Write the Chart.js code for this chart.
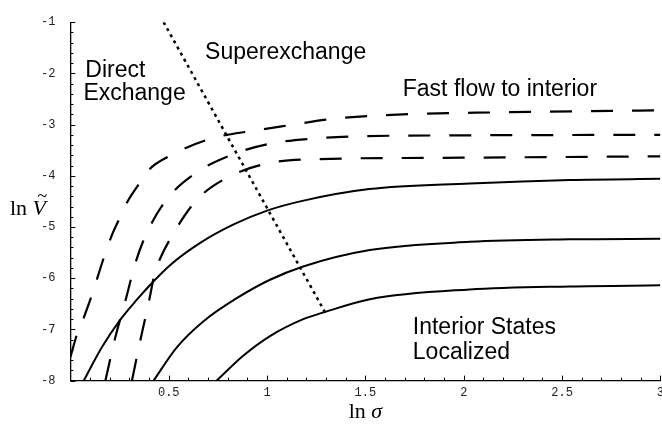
<!DOCTYPE html>
<html>
<head>
<meta charset="utf-8">
<script src="https://cdn.jsdelivr.net/npm/chart.js@4.4.0/dist/chart.umd.min.js"></script>
<style>
html, body { margin: 0; padding: 0; background: #fff; overflow: hidden; }
#wrap { width: 662px; height: 424px; overflow: hidden; }
</style>
</head>
<body>
<div id="wrap"><canvas id="grafik" width="669" height="424"></canvas></div>
<script>
// ======= Data kurva =======
const solidTopX = [0.068, 0.16, 0.254, 0.338, 0.423, 0.508, 0.66, 0.83, 1.0, 1.18, 1.52, 2.03, 2.54, 3.0];
const solidTopY = [-8, -7.35, -6.81, -6.42, -6.06, -5.74, -5.31, -4.95, -4.68, -4.49, -4.26, -4.15, -4.08, -4.06];

const solidMidX = [0.423, 0.541, 0.677, 0.846, 1.015, 1.184, 1.523, 2.03, 2.54, 3.0];
const solidMidY = [-8, -7.35, -6.84, -6.39, -6.03, -5.77, -5.45, -5.29, -5.24, -5.23];

const solidLowX = [0.744, 0.88, 1.015, 1.184, 1.294, 1.523, 2.03, 2.54, 3.0];
const solidLowY = [-8, -7.51, -7.13, -6.8, -6.66, -6.41, -6.22, -6.16, -6.14];

const dashAX = [0, 0.034, 0.068, 0.11, 0.169, 0.211, 0.245, 0.288, 0.347, 0.4, 0.5, 0.584, 0.694, 0.795, 0.897, 1.066, 1.354, 1.69, 2.2, 3.0];
const dashAY = [-7.54, -7.09, -6.77, -6.32, -5.61, -5.16, -4.87, -4.52, -4.17, -3.88, -3.62, -3.46, -3.3, -3.2, -3.14, -3.04, -2.88, -2.8, -2.76, -2.72];

const dashBX = [0.178, 0.228, 0.279, 0.33, 0.382, 0.484, 0.636, 0.82, 1.02, 1.244, 1.45, 2.0, 3.0];
const dashBY = [-8, -7.16, -6.45, -5.71, -5.17, -4.49, -3.95, -3.59, -3.37, -3.27, -3.23, -3.21, -3.2];

const dashCX = [0.313, 0.355, 0.398, 0.431, 0.457, 0.499, 0.638, 0.795, 1.0, 1.21, 1.84, 3.0];
const dashCY = [-8, -7.22, -6.48, -5.87, -5.61, -5.29, -4.49, -4.04, -3.76, -3.68, -3.65, -3.62];

const dottedX = [0.474, 1.294];
const dottedY = [-1, -6.66];

// ======= Label sumbu =======
const xTicks = [0.5, 1, 1.5, 2, 2.5, 3];
const yTicks = [-8, -7, -6, -5, -4, -3, -2, -1];

// ======= Teks keterangan (posisi dalam koordinat data) =======
const notes = [
    { text: 'Direct', x: 0.076, y: -2.07 },
    { text: 'Exchange', x: 0.066, y: -2.51 },
    { text: 'Superexchange', x: 0.685, y: -1.72 },
    { text: 'Fast flow to interior', x: 1.69, y: -2.45 },
    { text: 'Interior States', x: 1.741, y: -7.09 },
    { text: 'Localized', x: 1.741, y: -7.57 }
];

const toPoints = (xs, ys) => xs.map((x, i) => ({ x: x, y: ys[i] }));

function garis(xs, ys, dash, width, smooth) {
    return {
        data: toPoints(xs, ys),
        showLine: true,
        borderColor: '#000',
        borderWidth: width,
        borderDash: dash,
        borderCapStyle: 'butt',
        pointRadius: 0,
        fill: false,
        cubicInterpolationMode: smooth ? 'monotone' : 'default',
        tension: 0
    };
}

// ======= Plugin: tick kecil ke dalam, teks, judul sumbu =======
const dekorasi = {
    id: 'dekorasi',
    afterDraw(chart) {
        const { ctx, chartArea, scales } = chart;
        const sx = scales.x, sy = scales.y;
        ctx.save();
        ctx.strokeStyle = '#000';
        ctx.lineWidth = 1;
        for (let i = 0; i <= 30; i++) {
            const px = Math.round(sx.getPixelForValue(i / 10)) + 0.5;
            const len = i % 5 === 0 ? 5 : 3;
            ctx.beginPath();
            ctx.moveTo(px, chartArea.bottom);
            ctx.lineTo(px, chartArea.bottom - len);
            ctx.stroke();
        }
        for (let i = 0; i <= 35; i++) {
            const py = Math.round(sy.getPixelForValue(-8 + i / 5)) + 0.5;
            const len = i % 5 === 0 ? 5 : 3;
            ctx.beginPath();
            ctx.moveTo(chartArea.left, py);
            ctx.lineTo(chartArea.left + len, py);
            ctx.stroke();
        }

        ctx.fillStyle = '#000';
        ctx.textBaseline = 'alphabetic';
        ctx.textAlign = 'left';
        ctx.font = '23px "Liberation Sans", Arial, sans-serif';
        notes.forEach(n => ctx.fillText(n.text, sx.getPixelForValue(n.x), sy.getPixelForValue(n.y)));

        // judul sumbu y: ln V~
        const midY = (chartArea.top + chartArea.bottom) / 2 + 14;
        ctx.font = '22px "Liberation Serif", serif';
        ctx.fillText('ln', 10, midY);
        const wLn = ctx.measureText('ln ').width;
        ctx.font = 'italic 22px "Liberation Serif", serif';
        ctx.fillText('V', 10 + wLn, midY);
        const wV = ctx.measureText('V').width;
        ctx.font = '18px "Liberation Serif", serif';
        ctx.textAlign = 'center';
        ctx.fillText('~', 10 + wLn + wV / 2 + 3, midY - 13);

        // judul sumbu x: ln sigma
        const midX = (chartArea.left + chartArea.right) / 2;
        ctx.textAlign = 'left';
        ctx.font = '22px "Liberation Serif", serif';
        const wLn2 = ctx.measureText('ln ').width;
        ctx.font = 'italic 22px "Liberation Serif", serif';
        const wS = ctx.measureText('\u03C3').width;
        const startX = midX - (wLn2 + wS) / 2;
        ctx.font = '22px "Liberation Serif", serif';
        ctx.fillText('ln', startX, 418);
        ctx.font = 'italic 22px "Liberation Serif", serif';
        ctx.fillText('\u03C3', startX + wLn2, 418);
        ctx.restore();
    }
};

const tickFont = { family: '"Liberation Mono", "DejaVu Sans Mono", monospace', size: 12 };

new Chart(document.getElementById('grafik').getContext('2d'), {
    type: 'scatter',
    data: {
        datasets: [
            garis(solidTopX, solidTopY, [], 2, true),
            garis(solidMidX, solidMidY, [], 2, true),
            garis(solidLowX, solidLowY, [], 2, true),
            garis(dashAX, dashAY, [22, 19], 2.2, true),
            garis(dashBX, dashBY, [22, 19], 2.2, true),
            garis(dashCX, dashCY, [22, 19], 2.2, true),
            garis(dottedX, dottedY, [3, 4], 2.5, false)
        ]
    },
    options: {
        responsive: false,
        animation: false,
        layout: { padding: { left: 26, top: 5, right: 0, bottom: 19 } },
        plugins: {
            legend: { display: false },
            tooltip: { enabled: false }
        },
        scales: {
            x: {
                type: 'linear',
                min: 0,
                max: 3,
                afterBuildTicks: axis => { axis.ticks = xTicks.map(v => ({ value: v })); },
                ticks: { font: tickFont, color: '#222', padding: 5, maxRotation: 0, autoSkip: false,
                         callback: v => String(v) },
                grid: { display: false, drawTicks: false },
                border: { display: true, color: '#000', width: 1.3 }
            },
            y: {
                type: 'linear',
                min: -8,
                max: -1,
                afterBuildTicks: axis => { axis.ticks = yTicks.map(v => ({ value: v })); },
                ticks: { font: tickFont, color: '#222', padding: 15, autoSkip: false,
                         callback: v => String(v) },
                grid: { display: false, drawTicks: false },
                border: { display: true, color: '#000', width: 1.3 }
            }
        }
    },
    plugins: [dekorasi]
});
</script>
</body>
</html>
